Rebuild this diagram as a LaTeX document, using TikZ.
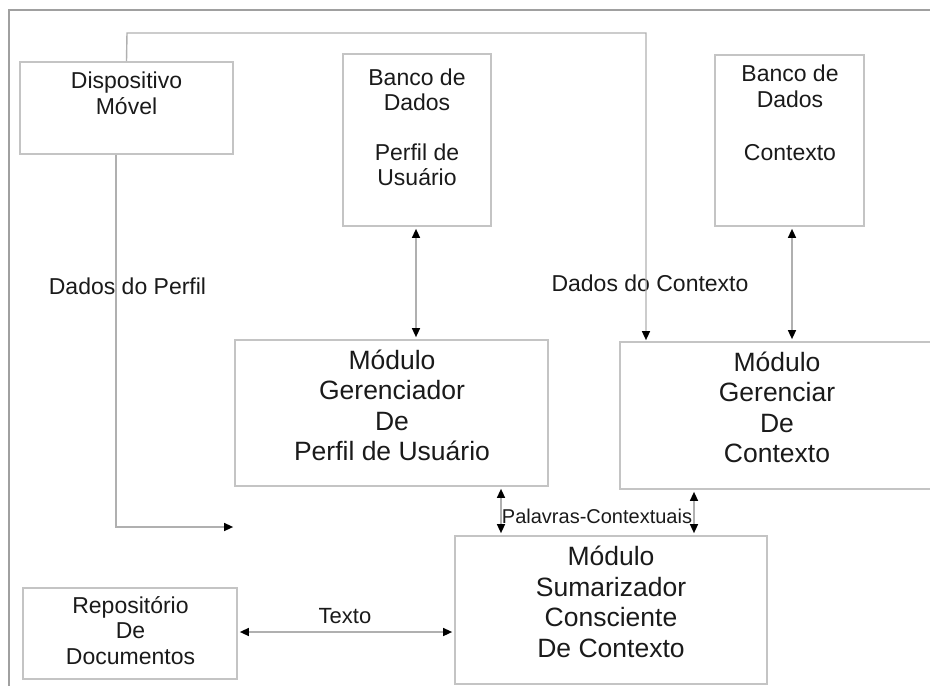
\documentclass[tikz,border=0pt]{standalone}
\usepackage{fontspec}
\setmainfont{Liberation Sans}
\usetikzlibrary{arrows.meta}
\definecolor{boxgray}{HTML}{C4C4C4}
\definecolor{linegray}{HTML}{B0B0B0}
\definecolor{framegray}{HTML}{A0A0A0}
\definecolor{txtcol}{HTML}{1A1A1A}
\begin{document}
\begin{tikzpicture}[x=1pt,y=-1pt,
  box/.style={draw=boxgray, line width=1.7pt, inner sep=0pt},
  lbl/.style={text=txtcol, inner sep=0pt, align=center},
  small/.style={font=\fontsize{23}{26}\selectfont},
  big/.style={font=\fontsize{26.5}{30.5}\selectfont},
  conn/.style={draw=linegray, line width=1.4pt},
  tip/.style={-{Triangle[length=9pt,width=8pt,color=black]}, shorten >=1pt},
  dtip/.style={{Triangle[length=9pt,width=8pt,color=black]}-{Triangle[length=9pt,width=8pt,color=black]}, shorten >=2pt, shorten <=2pt},
]
\useasboundingbox (0,0) rectangle (930,686);
% frame
\coordinate (fbl) at (9,690);
\coordinate (ftl) at (9,10);
\coordinate (ftr) at (940,10);
\draw[framegray, line width=1.3pt] (fbl) -- (ftl) -- (ftr);

% boxes
\node[box, minimum width=213pt, minimum height=92pt] (disp) at (126.5,108) {};
\node[box, minimum width=148pt, minimum height=172pt] (bdp) at (417,140) {};
\node[box, minimum width=149pt, minimum height=171pt] (bdc) at (789.5,140.5) {};
\node[box, minimum width=313pt, minimum height=146pt] (mgp) at (391.5,413) {};
\node[box, minimum width=320pt, minimum height=147pt] (mgc) at (780,415.5) {};
\node[box, minimum width=312pt, minimum height=148pt] (sum) at (611,610) {};
\node[box, minimum width=214pt, minimum height=91pt] (rep) at (130,633.5) {};

% texts
\node[lbl, small] (tdisp) at (126.5,93) {Dispositivo\\Móvel};
\node[lbl, small, font=\fontsize{23}{25}\selectfont] (tbdp) at (417,127) {Banco de\\Dados\\[25pt]Perfil de\\Usuário};
\node[lbl, small, font=\fontsize{23}{26.5}\selectfont] (tbdc) at (790,113) {Banco de\\Dados\\[26.5pt]Contexto};
\node[lbl, big] (tmgp) at (392,405.5) {Módulo\\Gerenciador\\De\\Perfil de Usuário};
\node[lbl, big] (tmgc) at (777,407.5) {Módulo\\Gerenciar\\De\\Contexto};
\node[lbl, big] (tsum) at (611,602) {Módulo\\Sumarizador\\Consciente\\De Contexto};
\node[lbl, small, font=\fontsize{23}{25.5}\selectfont] (trep) at (130.5,630.5) {Repositório\\De\\Documentos};

% connector labels
\node[lbl, small] (ldp) at (127.5,286) {Dados do Perfil};
\node[lbl, small] (ldc) at (650,283) {Dados do Contexto};
\node[lbl, font=\fontsize{22}{26}\selectfont] (ltx) at (345,616) {Texto};
\node[lbl, font=\fontsize{20}{24}\selectfont] (lpc) at (597,516) {Palavras-Contextuais};

% connectors
\coordinate (c1) at (127,33);
\coordinate (c2) at (646,33);
\draw[conn, tip] (disp.north) -- (c1) -- (c2) -- (c2 |- mgc.north);

\coordinate (d1) at (116,527);
\draw[conn, tip] (disp.south -| d1) -- (d1) -- (d1 -| mgp.west);

\coordinate (e1) at (416,300);
\draw[conn, dtip] (bdp.south -| e1) -- (mgp.north -| e1);

\coordinate (e2) at (792,300);
\draw[conn, dtip] (bdc.south -| e2) -- (mgc.north -| e2);

\coordinate (e3) at (501,510);
\draw[conn, dtip] (mgp.south -| e3) -- (sum.north -| e3);

\coordinate (e4) at (694,510);
\draw[conn, dtip] (mgc.south -| e4) -- (sum.north -| e4);

\coordinate (e5) at (300,632);
\draw[conn, dtip] (rep.east |- e5) -- (sum.west |- e5);
\end{tikzpicture}
\end{document}
